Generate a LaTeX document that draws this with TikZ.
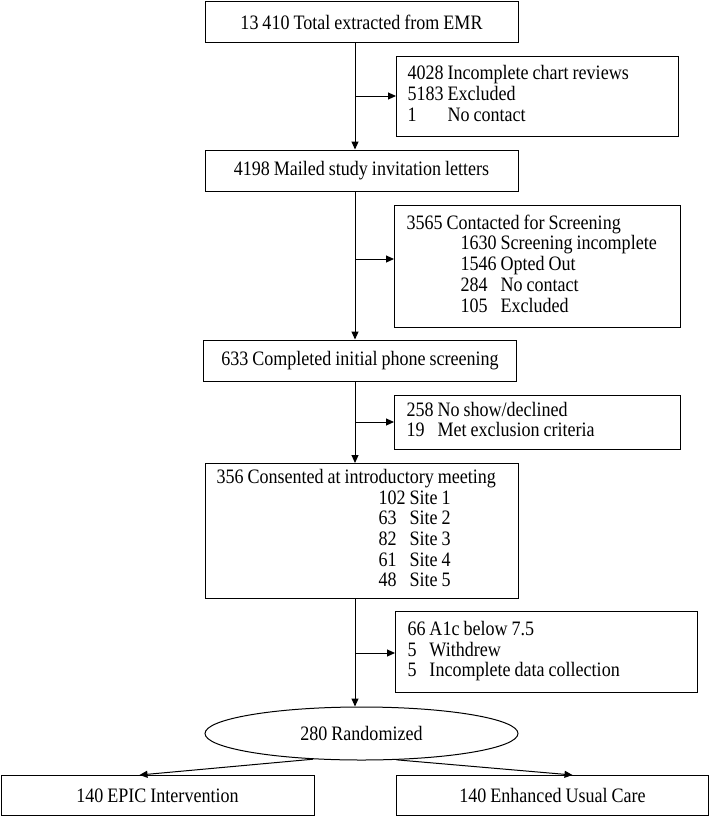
\documentclass[tikz,border=0pt]{standalone}
\usepackage{fontspec}
\setmainfont[FakeStretch=0.88,WordSpace=0.88]{Liberation Serif}
\usetikzlibrary{shapes.geometric,arrows.meta,calc}
\begin{document}
\begin{tikzpicture}[x=1pt,y=-1pt,
  every node/.style={font=\fontsize{20.5}{20.7}\selectfont},
  box/.style={draw, line width=1pt, rectangle, inner sep=0pt},
  sidebox/.style={box, align=flush left, anchor=north west},
  arr/.style={line width=1pt, -{Triangle[length=8pt,width=7pt]}}]
\useasboundingbox (0,0) rectangle (709,816);
\coordinate (sp) at (355,0);
% main column
\node[box, minimum width=313pt, minimum height=41pt] (b1) at (361.5,22.5) {13 410 Total extracted from EMR};
\node[box, minimum width=313pt, minimum height=41pt] (b2) at (361.5,170.5) {4198 Mailed study invitation letters};
\node[box, minimum width=313pt, minimum height=41pt] (b3) at (360,360.5) {633 Completed initial phone screening};
\node[sidebox, text width=291pt, inner xsep=11pt, minimum height=135pt] (b4) at (205,463)
  {\begin{tabular}{@{}p{162pt}@{}l@{\ }l@{}}\multicolumn{3}{@{}l@{}}{356 Consented at introductory meeting}\\
   & 102 & Site 1\\ & 63 & Site 2\\ & 82 & Site 3\\ & 61 & Site 4\\ & 48 & Site 5\end{tabular}};
\node[draw, ellipse, line width=1pt, minimum width=313pt, minimum height=53pt, inner sep=0pt] (rnd) at (361.5,733.5) {280 Randomized};
\node[box, minimum width=313pt, minimum height=40pt] (epic) at (157.5,795.5) {140 EPIC Intervention};
\node[box, minimum width=312pt, minimum height=40pt] (euc) at (552.5,795.5) {140 Enhanced Usual Care};
% side boxes
\node[sidebox, text width=260pt, inner xsep=11pt, minimum height=80pt] (s1) at (396,56)
  {\begin{tabular}{@{}l@{\ }l@{}}4028 & Incomplete chart reviews\\ 5183 & Excluded\\ 1 & No contact\end{tabular}};
\node[sidebox, text width=262pt, inner xsep=12pt, minimum height=122pt] (s2) at (394,205)
  {\begin{tabular}{@{}p{54pt}@{}l@{\ }l@{}}\multicolumn{3}{@{}l@{}}{3565 Contacted for Screening}\\
   & 1630 & Screening incomplete\\ & 1546 & Opted Out\\ & 284 & No contact\\ & 105 & Excluded\end{tabular}};
\node[sidebox, text width=262pt, inner xsep=12pt, minimum height=54pt] (s3) at (394,395)
  {\begin{tabular}{@{}l@{\ }l@{}}258 & No show/declined\\ 19 & Met exclusion criteria\end{tabular}};
\node[sidebox, text width=278pt, inner xsep=12pt, minimum height=81pt] (s4) at (395,611)
  {\begin{tabular}{@{}l@{\ }l@{}}66 & A1c below 7.5\\ 5 & Withdrew\\ 5 & Incomplete data collection\end{tabular}};
% junctions
\coordinate (j1) at (355,96);
\coordinate (j2) at (355,259);
\coordinate (j3) at (355,422);
\coordinate (j4) at (355,653);
% spine
\draw[arr] (b1.south -| sp) -- (b2.north -| sp);
\draw[arr] (b2.south -| sp) -- (b3.north -| sp);
\draw[arr] (b3.south -| sp) -- (b4.north -| sp);
\draw[arr] (b4.south -| sp) -- (rnd.north -| sp);
% branches
\draw[arr] (j1) -- (j1 -| s1.west);
\draw[arr] (j2) -- (j2 -| s2.west);
\draw[arr] (j3) -- (j3 -| s3.west);
\draw[arr] (j4) -- (j4 -| s4.west);
% randomisation
\draw[arr] (rnd.208) -- ($(epic.north)+(-18,0)$);
\draw[arr] (rnd.323) -- ($(euc.north)+(20,0)$);
\end{tikzpicture}
\end{document}
